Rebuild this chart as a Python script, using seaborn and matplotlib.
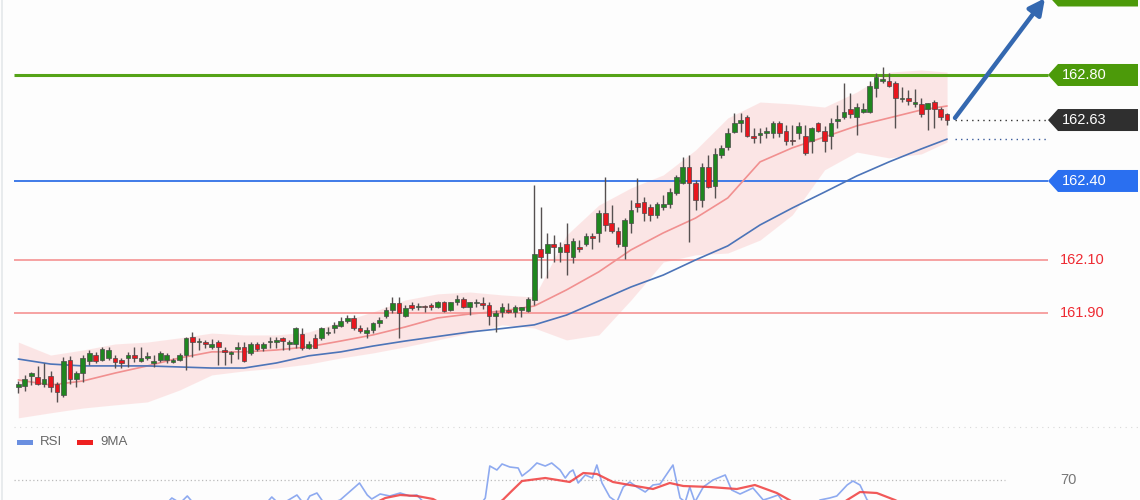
import numpy as np
import pandas as pd
import matplotlib
matplotlib.use('Agg')
import matplotlib.pyplot as plt
import seaborn as sns
from matplotlib.patches import Rectangle

# candle data (OHLC), one value per bar
opens = [161.624, 161.626, 161.665, 161.662, 161.633, 161.664, 161.633, 161.592, 161.724, 161.653,
         161.674, 161.721, 161.743, 161.724, 161.731, 161.733, 161.724, 161.733, 161.743, 161.721,
         161.733, 161.712, 161.724, 161.724, 161.718, 161.724, 161.743, 161.813, 161.791, 161.791,
         161.772, 161.794, 161.762, 161.747, 161.766, 161.775, 161.750, 161.784, 161.771, 161.791,
         161.794, 161.806, 161.784, 161.784, 161.823, 161.771, 161.806, 161.806, 161.825,
         161.844, 161.853, 161.873, 161.884, 161.844, 161.828, 161.838, 161.863, 161.890, 161.913, 161.941,
         161.890, 161.932, 161.923, 161.926, 161.932, 161.923, 161.942, 161.913, 161.942, 161.953,
         161.923, 161.938, 161.934, 161.932, 161.892, 161.907, 161.913, 161.907, 161.913, 161.911,
         161.951, 162.142, 162.129, 162.162, 162.132, 162.162, 162.112, 162.152, 162.162, 162.192,
         162.202, 162.280, 162.243, 162.213, 162.155, 162.243, 162.316,
         162.322, 162.303, 162.272, 162.303, 162.313, 162.356, 162.391, 162.452, 162.391, 162.328,
         162.452, 162.381, 162.498, 162.527, 162.586, 162.620, 162.640, 162.570, 162.574, 162.582,
         162.582, 162.620, 162.590, 162.552, 162.580, 162.570, 162.552, 162.620, 162.590, 162.570,
         162.628, 162.640, 162.670, 162.640, 162.662, 162.662, 162.750, 162.779, 162.779, 162.771,
         162.708, 162.712, 162.691, 162.691, 162.670, 162.699, 162.670, 162.653]
highs = [161.645, 161.668, 161.678, 161.703, 161.712, 161.683, 161.643, 161.737, 161.741, 161.683,
         161.743, 161.762, 161.756, 161.775, 161.775, 161.743, 161.733, 161.756, 161.775, 161.775,
         161.756, 161.743, 161.758, 161.750, 161.731, 161.750, 161.813, 161.831, 161.806, 161.800,
         161.804, 161.800, 161.775, 161.758, 161.794, 161.794, 161.791, 161.791, 161.791, 161.813,
         161.813, 161.813, 161.800, 161.847, 161.844, 161.796, 161.821, 161.847, 161.847,
         161.869, 161.888, 161.894, 161.894, 161.857, 161.850, 161.869, 161.888, 161.926, 161.963, 161.963,
         161.932, 161.945, 161.938, 161.932, 161.941, 161.948, 161.948, 161.945, 161.970, 161.963,
         161.945, 161.953, 161.963, 161.942, 161.913, 161.941, 161.941, 161.932, 161.926, 161.961,
         162.385, 162.301, 162.202, 162.196, 162.171, 162.243, 162.184, 162.177, 162.202, 162.205,
         162.291, 162.414, 162.309, 162.228, 162.259, 162.328, 162.410,
         162.341, 162.313, 162.322, 162.347, 162.372, 162.423, 162.489, 162.498, 162.404, 162.467,
         162.498, 162.523, 162.536, 162.599, 162.658, 162.655, 162.649, 162.599, 162.599, 162.605,
         162.628, 162.628, 162.611, 162.611, 162.624, 162.611, 162.605, 162.624, 162.608, 162.637,
         162.687, 162.769, 162.731, 162.696, 162.696, 162.779, 162.806, 162.829, 162.809, 162.779,
         162.756, 162.743, 162.746, 162.712, 162.696, 162.706, 162.681, 162.658]
lows = [161.599, 161.607, 161.630, 161.630, 161.624, 161.605, 161.565, 161.586, 161.633, 161.624,
        161.643, 161.706, 161.712, 161.721, 161.724, 161.695, 161.693, 161.699, 161.718, 161.716,
        161.724, 161.699, 161.716, 161.712, 161.712, 161.721, 161.687, 161.737, 161.762, 161.768,
        161.766, 161.706, 161.706, 161.712, 161.728, 161.718, 161.743, 161.758, 161.758, 161.768,
        161.768, 161.762, 161.762, 161.768, 161.762, 161.766, 161.768, 161.800, 161.819,
        161.825, 161.850, 161.863, 161.838, 161.825, 161.806, 161.825, 161.850, 161.882, 161.901, 161.806,
        161.888, 161.913, 161.913, 161.907, 161.913, 161.919, 161.907, 161.911, 161.932, 161.919,
        161.894, 161.923, 161.916, 161.857, 161.831, 161.888, 161.903, 161.888, 161.888, 161.907,
        161.932, 162.033, 162.033, 162.096, 162.096, 162.045, 162.092, 162.133, 162.155, 162.142,
        162.171, 162.213, 162.202, 162.150, 162.104, 162.202, 162.284,
        162.250, 162.250, 162.259, 162.291, 162.297, 162.347, 162.389, 162.171, 162.291, 162.303,
        162.372, 162.335, 162.485, 162.517, 162.580, 162.586, 162.565, 162.542, 162.542, 162.561,
        162.561, 162.567, 162.536, 162.536, 162.557, 162.498, 162.504, 162.586, 162.511, 162.519,
        162.599, 162.633, 162.637, 162.574, 162.658, 162.658, 162.716, 162.769, 162.753, 162.599,
        162.699, 162.687, 162.681, 162.640, 162.592, 162.599, 162.630, 162.611]
closes = [161.633, 161.651, 161.674, 161.633, 161.651, 161.624, 161.602, 161.721, 161.653, 161.674,
          161.733, 161.752, 161.721, 161.765, 161.762, 161.716, 161.712, 161.743, 161.733, 161.733,
          161.737, 161.721, 161.752, 161.743, 161.721, 161.743, 161.806, 161.794, 161.794, 161.784,
          161.784, 161.775, 161.753, 161.753, 161.775, 161.721, 161.784, 161.765, 161.784, 161.796,
          161.796, 161.796, 161.794, 161.844, 161.771, 161.784, 161.771, 161.844, 161.831,
          161.857, 161.873, 161.884, 161.844, 161.835, 161.838, 161.863, 161.875, 161.913, 161.941, 161.903,
          161.922, 161.919, 161.926, 161.923, 161.923, 161.942, 161.911, 161.942, 161.953, 161.923,
          161.942, 161.942, 161.932, 161.892, 161.903, 161.923, 161.907, 161.923, 161.923, 161.953,
          162.123, 162.112, 162.162, 162.152, 162.150, 162.132, 162.175, 162.142, 162.192, 162.184,
          162.280, 162.234, 162.213, 162.162, 162.253, 162.291, 162.301,
          162.281, 162.272, 162.313, 162.313, 162.360, 162.414, 162.452, 162.391, 162.328, 162.452,
          162.379, 162.502, 162.523, 162.580, 162.620, 162.630, 162.570, 162.561, 162.582, 162.590,
          162.620, 162.582, 162.552, 162.550, 162.608, 162.504, 162.599, 162.590, 162.552, 162.620,
          162.633, 162.662, 162.653, 162.678, 162.670, 162.759, 162.791, 162.784, 162.759, 162.712,
          162.712, 162.703, 162.699, 162.653, 162.693, 162.670, 162.640, 162.630]

band_idx = [0, 5, 10, 15, 20, 25, 30, 35, 40, 45, 50, 55, 60, 65, 70, 75, 80, 85, 90, 95,
            100, 105, 110, 115, 120, 125, 130, 135, 140, 144]
band_upper = [161.792, 161.743, 161.762, 161.785, 161.792, 161.808, 161.826, 161.819, 161.819, 161.830,
              161.868, 161.906, 161.951, 161.974, 161.981, 161.970, 161.962, 162.196, 162.309, 162.374,
              162.423, 162.517, 162.638, 162.698, 162.691, 162.679, 162.736, 162.811, 162.819, 162.811]
band_lower = [161.506, 161.525, 161.543, 161.555, 161.566, 161.611, 161.668, 161.683, 161.694, 161.709,
              161.732, 161.751, 161.774, 161.800, 161.826, 161.857, 161.845, 161.800, 161.819, 161.951,
              162.094, 162.121, 162.128, 162.177, 162.272, 162.442, 162.509, 162.487, 162.502, 162.547]
ma_fast = [161.649, 161.630, 161.645, 161.675, 161.702, 161.732, 161.755, 161.755, 161.762, 161.774,
           161.796, 161.819, 161.849, 161.883, 161.898, 161.909, 161.928, 161.989, 162.057, 162.140,
           162.204, 162.260, 162.336, 162.472, 162.525, 162.566, 162.608, 162.638, 162.668, 162.683]
ma_slow = [161.728, 161.709, 161.702, 161.702, 161.702, 161.698, 161.694, 161.694, 161.713, 161.740,
           161.755, 161.777, 161.796, 161.813, 161.830, 161.843, 161.857, 161.894, 161.947, 162.000,
           162.045, 162.102, 162.155, 162.234, 162.298, 162.358, 162.419, 162.472, 162.521, 162.558]

# levels: price, text, colour (top tag is cut off by the frame, no text visible)
box_levels = [163.10, 162.80, 162.63, 162.40]
box_texts = ['', '162.80', '162.63', '162.40']
box_colors = ['#4c9a0a', '#4c9a0a', '#2f2f2f', '#2a6ff0']
red_levels = [162.10, 161.90]

# RSI panel (only the upper part is visible)
rsi_x = [22.8, 23.8, 25.1, 26.2, 27.4, 38.2, 39.3, 40.6, 43.2, 44.4, 45.2, 46.3, 47.6, 49.9, 52.2, 52.9,
         54.1, 54.8, 56.1, 57.6, 59.2, 60.7, 61.8, 63.1, 71.6, 72.4, 73.1, 74.2, 75.0, 76.2, 77.5, 78.1,
         79.3, 80.4, 81.7, 82.7, 84.0, 84.8, 85.5, 86.0, 86.8, 87.9, 89.0, 89.7, 90.5, 91.7, 92.8, 93.8,
         94.8, 95.9, 97.2, 98.4, 99.5, 101.5, 102.6, 103.4, 104.1, 104.9, 106.2, 107.7, 109.6, 110.6,
         111.9, 113.9, 115.5, 116.5, 117.8, 118.6, 119.6, 123.5, 124.3, 125.8, 126.9, 128.5, 129.4,
         130.5, 131.6, 132.8]
rsi_vals = [55, 59.2, 56.2, 60.4, 55, 55, 59.8, 55, 61, 55, 60.4, 62.2, 55, 58, 65.8, 68.2,
            61, 58.6, 61.6, 60.4, 62.2, 60.4, 61, 55.6, 55, 59.2, 78.4, 76, 79.6, 77.8, 77.2, 72.4,
            76, 80.2, 78.4, 80.2, 76, 71.2, 74.8, 76, 68.2, 73, 71.2, 79, 68.2, 59.8, 56.8, 65.8,
            68.8, 65.8, 62.8, 67, 67.6, 79, 59.2, 56.8, 65.8, 56.8, 65.8, 70, 73, 64,
            61.6, 65.2, 58, 59.2, 61, 56.8, 55, 55, 58, 59.2, 60.4, 67, 69.4,
            67, 58, 55]
ma9_x = [55.3, 56.9, 59.2, 61.8, 64.3, 65.4, 73.9, 75.1, 76.5, 78.1, 81.7, 85.5, 87.6, 89.7, 92.2,
         94.8, 98.4, 101.0, 103.1, 107.2, 111.4, 114.2, 117.6, 120.1, 121.2, 127.4, 128.5, 130.5,
         133.1, 135.9, 137.5]
ma9_vals = [56.2, 59.2, 61, 60.4, 58.6, 56.2, 55, 58, 63.4, 69.4, 71.2, 68.8, 74.2, 73.6, 68.8,
            67, 64.6, 68.2, 66.4, 65.8, 64.6, 67, 62.2, 56.8, 55, 55, 58, 62.8,
            62.2, 58, 55]


def px2i(px):
    # pixel column -> bar index (bars are 6.45 px apart, first at 18.3 px)
    return (px - 18.3) / 6.45


sns.set_theme(style='white')
plt.rcParams['font.family'] = ['Liberation Sans', 'DejaVu Sans']

fig = plt.figure(figsize=(11.4, 5.0), dpi=100, facecolor='#fdfdfd')
ax = fig.add_axes([0, 0.15, 1, 0.85])
ax2 = fig.add_axes([0, 0, 1, 0.15])
for a in (ax, ax2):
    a.set_facecolor('#fdfdfd')
    a.set_xlim(px2i(0), px2i(1140))
    a.axis('off')
ax.set_ylim(161.479, 163.083)
ax2.set_ylim(58, 103)

idx = np.arange(len(closes))
df = pd.DataFrame({'i': idx, 'o': opens, 'h': highs, 'l': lows, 'c': closes})
ov = pd.DataFrame({'i': band_idx, 'up': band_upper, 'lo': band_lower,
                   'fast': ma_fast, 'slow': ma_slow})

# bollinger-like band
ax.fill_between(ov['i'], ov['lo'], ov['up'], color='#fbd3d3', alpha=0.55, lw=0, zorder=1)

# horizontal levels
x0, x1 = px2i(14), px2i(1048)
ax.hlines(162.80, x0, x1, color='#55a318', lw=2.2, zorder=2)
ax.hlines(162.40, x0, x1, color='#3f7be8', lw=1.4, zorder=2)
ax.hlines(red_levels, x0, x1, color='#f58a8a', lw=1.1, zorder=2)
ax.hlines(162.63, px2i(955), x1, color='#333333', lw=1, ls=(0, (1, 3)), zorder=2)
ax.hlines(ma_slow[-1], px2i(955), x1, color='#3a5a9a', lw=1, ls=(0, (1, 3)), zorder=2)

# moving averages
sns.lineplot(data=ov, x='i', y='fast', ax=ax, color='#f19090', lw=1.2, zorder=3)
sns.lineplot(data=ov, x='i', y='slow', ax=ax, color='#4c74b8', lw=1.2, zorder=3)

# candles
up = df['c'] >= df['o']
cols = np.where(up, '#1f861f', '#e8161e')
ax.vlines(df['i'], df['l'], df['h'], color='#555050', lw=1, zorder=4)
body_lo = np.minimum(df['o'], df['c'])
body_h = np.maximum(np.abs(df['c'] - df['o']), 0.006)
ax.bar(df['i'], body_h, bottom=body_lo, width=0.72, color=cols,
       edgecolor='#4a4a4a', linewidth=0.5, zorder=5)

# forecast arrow
ax.annotate('', xy=(px2i(1045), 163.09), xytext=(px2i(955), 162.638),
            annotation_clip=False,
            arrowprops=dict(arrowstyle='-|>', color='#3468b0', lw=3.2,
                            mutation_scale=24, shrinkA=0, shrinkB=0), zorder=6)

# price tags on the right
hh = 11 / 265.0
xa, xb, xc = px2i(1048), px2i(1058), px2i(1138)
for y, t, c in zip(box_levels, box_texts, box_colors):
    ax.fill([xa, xb, xc, xc, xb], [y, y + hh, y + hh, y - hh, y - hh], color=c, lw=0, zorder=6)
    if t:
        ax.text(px2i(1062), y, t, color='white', fontsize=10.5, va='center', ha='left', zorder=7)
for y in red_levels:
    ax.text(px2i(1060), y, f'{y:.2f}', color='#ee2a32', fontsize=10.5, va='center', ha='left')

# left border line
ax.axvline(px2i(2), color='#e4e8ea', lw=1.2)
ax2.axvline(px2i(2), color='#e4e8ea', lw=1.2)

# RSI panel
ax2.hlines(102, px2i(14), px2i(1140), color='#d8d8d8', lw=0.8, ls=(0, (1, 4)))
ax2.hlines(70, px2i(14), px2i(1005), color='#bbbbbb', lw=0.9, ls=(0, (1, 2)))
ax2.text(px2i(1060), 70, '70', color='#777777', fontsize=10.5, va='center', ha='left')
rsi_df = pd.DataFrame({'i': rsi_x, 'v': rsi_vals})
ma9_df = pd.DataFrame({'i': ma9_x, 'v': ma9_vals})
sns.lineplot(data=rsi_df, x='i', y='v', ax=ax2, color='#8eaaf0', lw=1.2, sort=False)
sns.lineplot(data=ma9_df, x='i', y='v', ax=ax2, color='#f03c3c', lw=1.6, alpha=0.85, sort=False)
ax2.axis('off')

# legend
fig.add_artist(Rectangle((17 / 1140, 55.5 / 500), 16 / 1140, 5 / 500,
                         transform=fig.transFigure, color='#6a8fe0', lw=0))
fig.text(40 / 1140, 58 / 500, 'RSI', color='#666666', fontsize=9.5, va='center')
fig.add_artist(Rectangle((77 / 1140, 55.5 / 500), 16 / 1140, 5 / 500,
                         transform=fig.transFigure, color='#ee2020', lw=0))
fig.text(100 / 1140, 58 / 500, '9MA', color='#666666', fontsize=9.5, va='center')

fig.savefig('out.png', dpi=100, facecolor=fig.get_facecolor())
